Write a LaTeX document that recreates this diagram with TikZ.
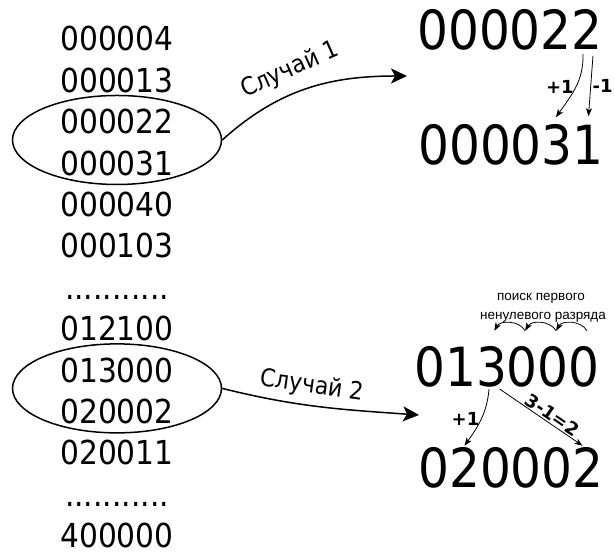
\documentclass[tikz,border=0pt]{standalone}
\usepackage{fontspec}
\setmainfont{DejaVu Sans}[FakeStretch=0.9]
\newfontfamily\notefont{Liberation Sans}
\newfontfamily\signfont{DejaVu Sans}
\usetikzlibrary{arrows.meta,shapes.geometric,calc}
\newcommand\dotrow{...........}

\begin{document}
\begin{tikzpicture}[x=1pt,y=1pt,
  num/.style={font=\fontsize{33}{33}\selectfont,inner sep=0,anchor=base},
  big/.style={font=\fontsize{54}{54}\selectfont,inner sep=0,anchor=base},
  ring/.style={draw,ellipse,line width=1.5pt,minimum width=209pt,minimum height=89pt,inner sep=0},
  case/.style={font=\fontsize{24.5}{24.5}\selectfont,inner sep=0},
  sign/.style={font=\signfont\fontsize{18}{18}\selectfont\bfseries,inner sep=1.5pt},
  note/.style={font=\notefont\fontsize{13.5}{13.5}\selectfont,inner sep=0},
  bigarrow/.style={line width=1.5pt,-{Stealth[length=16pt,width=15pt,inset=4pt]}},
  smallarrow/.style={line width=0.8pt,-{Stealth[length=8pt,width=6pt,inset=2pt]}}]
\useasboundingbox (0,0) rectangle (615,556);

% left column
\foreach \t [count=\i] in {000004,000013,000022,000031,000040,000103,\dotrow,012100,013000,020002,020011,\dotrow,400000}
  \node[num] (r\i) at (117,{505-41.4*(\i-1)}) {\t};

\node[ring] (e1) at ($(r3)!0.5!(r4)+(0,2.5)$) {};
\node[ring] (e2) at ($(r9)!0.5!(r10)+(0,2.5)$) {};

% case 1
\node[big] (A) at (510,506) {000022};
\node[big] (B) at (511,391) {000031};
\coordinate (t1) at (407,480);
\draw[bigarrow] (e1.east) to[out=42,in=180] (t1);
\node[case,rotate=24] (l1) at (290,486) {Случай 1};
\draw[smallarrow] ($(A.south east)+(-20,-3)$) to[out=-88,in=55]
  node[sign,left] {+1} ($(B.north east)+(-48,7.5)$);
\draw[smallarrow] ($(A.south east)+(-10,-5)$) --
  node[sign,right] {-1} ($(B.north east)+(-15.5,8.5)$);

% case 2
\node[big] (C) at (507,169) {013000};
\node[big] (D) at (511,68) {020002};
\coordinate (t2) at (419,141);
\draw[bigarrow] (e2.east) to[out=-14,in=176] (t2);
\node[case,rotate=-8] (l2) at (312,170) {Случай 2};
\node[note] (s1) at (541,258) {поиск первого};
\node[note] (s2) at (543,239) {ненулевого разряда};
\foreach \k in {3,...,6}
  \coordinate (d\k) at ($(C.north west)+({30.9*(\k-0.5)+3},16)$);
\foreach \a/\b in {6/5,5/4,4/3}
  \draw[smallarrow] (d\a) to[bend right=60] (d\b);
\draw[smallarrow] ($(C.south west)+(75,-1)$) to[out=-95,in=55]
  node[sign,left] {+1} ($(D.north west)+(46.5,2)$);
\draw[smallarrow] ($(C.south west)+(85.5,-1)$) --
  node[sign,pos=0.58,sloped,above,inner sep=1pt] {3-1=2} ($(D.north west)+(164.5,2)$);
\end{tikzpicture}
\end{document}
